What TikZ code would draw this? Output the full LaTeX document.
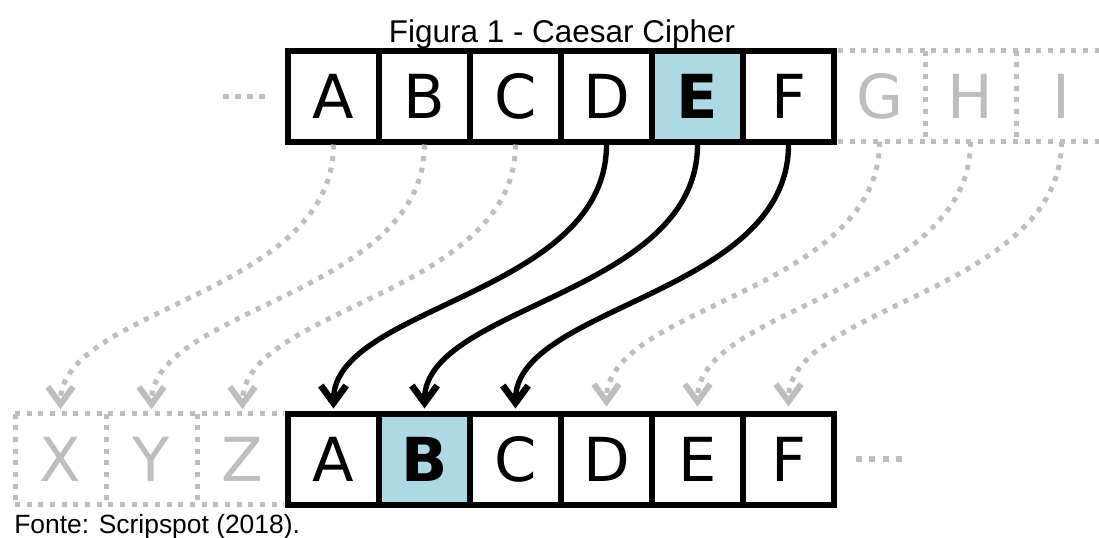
\documentclass[tikz,border=0pt]{standalone}
\usepackage{fontspec}
\setmainfont{Liberation Sans}
\newfontfamily\dejavu{DejaVu Sans}
\usetikzlibrary{arrows.meta}
\definecolor{cellblue}{RGB}{173,216,230}
\definecolor{ghost}{RGB}{190,190,190}
\begin{document}
\begin{tikzpicture}[x=0.75pt,y=-0.75pt,
  cell/.style={draw=black, line width=4.5pt, minimum width=68.25pt, minimum height=68.25pt, inner sep=0pt, font=\dejavu\fontsize{45.5}{54}\selectfont, text=black},
  hicell/.style={cell, fill=cellblue, font=\dejavu\bfseries\fontsize{45.5}{54}\selectfont},
  ghostcell/.style={minimum width=68.25pt, minimum height=68.25pt, inner sep=0pt, font=\dejavu\fontsize{45.5}{54}\selectfont, text=ghost},
  gdots/.style={draw=ghost, line width=3.75pt, dash pattern=on 3.75pt off 5pt},
  blackarrow/.style={draw=black, line width=4pt, shorten >=1.5pt, -{Straight Barb[length=13pt,width=19pt,line width=5pt]}},
  grayarrow/.style={draw=ghost, line width=3.75pt, dash pattern=on 3.75pt off 5pt, shorten >=3pt, -{Straight Barb[length=13pt,width=19pt,line width=4.5pt]}},
  dotsq/.style={fill=ghost, minimum size=3.9pt, inner sep=0pt}
]
\useasboundingbox (0,0) rectangle (1099,537);
\fill[white] (0,0) rectangle (1099,537);

% title and source
\node[font=\fontsize{23.6}{28}\selectfont, anchor=base, inner sep=0pt] (title) at (562,42) {Figura 1 - Caesar Cipher};
\node[font=\fontsize{19.8}{24}\selectfont, anchor=base west, inner sep=0pt] (src) at (14,533) {Fonte: Scripspot (2018).};

% top row: ghost cells G H I
\node[ghostcell] (tG) at (879.5,96) {G};
\node[ghostcell] (tH) at (970.5,96) {H};
\node[ghostcell] (tI) at (1061.5,96) {I};
\draw[gdots] (838,50.5) -- (1099,50.5);
\draw[gdots] (838,141.5) -- (1099,141.5);
\draw[gdots] (925,50.5) -- (925,141.5);
\draw[gdots] (1016,50.5) -- (1016,141.5);

% bottom row: ghost cells X Y Z
\node[ghostcell] (bX) at (60.5,459) {X};
\node[ghostcell] (bY) at (151.5,459) {Y};
\node[ghostcell] (bZ) at (242.5,459) {Z};
\draw[gdots] (15,413.5) -- (284,413.5);
\draw[gdots] (15,504.5) -- (284,504.5);
\draw[gdots] (15,413.5) -- (15,504.5);
\draw[gdots] (106,413.5) -- (106,504.5);
\draw[gdots] (197,413.5) -- (197,504.5);

% top row cells
\node[cell] (tA) at (333.5,96) {A};
\node[cell] (tB) at (424.5,96) {B};
\node[cell] (tC) at (515.5,96) {C};
\node[cell] (tD) at (606.5,96) {D};
\node[hicell] (tE) at (697.5,96) {E};
\node[cell] (tF) at (788.5,96) {F};

% bottom row cells
\node[cell] (bA) at (333.5,459) {A};
\node[hicell] (bB) at (424.5,459) {B};
\node[cell] (bC) at (515.5,459) {C};
\node[cell] (bD) at (606.5,459) {D};
\node[cell] (bE) at (697.5,459) {E};
\node[cell] (bF) at (788.5,459) {F};

% ellipsis dots
\foreach \i/\x in {1/226,2/238,3/250,4/262}
  \node[dotsq] (ldot\i) at (\x,96.5) {};
\foreach \i/\x in {1/859,2/872,3/886,4/899}
  \node[dotsq] (rdot\i) at (\x,459) {};

% gray shifts
\draw[grayarrow] (tA.south) .. controls +(0,150) and +(0,-105) .. (bX.north);
\draw[grayarrow] (tB.south) .. controls +(0,150) and +(0,-105) .. (bY.north);
\draw[grayarrow] (tC.south) .. controls +(0,150) and +(0,-105) .. (bZ.north);
\draw[grayarrow] (tG.south) .. controls +(0,150) and +(0,-105) .. (bD.north);
\draw[grayarrow] (tH.south) .. controls +(0,150) and +(0,-105) .. (bE.north);
\draw[grayarrow] (tI.south) .. controls +(0,150) and +(0,-105) .. (bF.north);

% black shifts
\draw[blackarrow] (tD.south) .. controls +(0,150) and +(0,-105) .. (bA.north);
\draw[blackarrow] (tE.south) .. controls +(0,150) and +(0,-105) .. (bB.north);
\draw[blackarrow] (tF.south) .. controls +(0,150) and +(0,-105) .. (bC.north);
\end{tikzpicture}
\end{document}
